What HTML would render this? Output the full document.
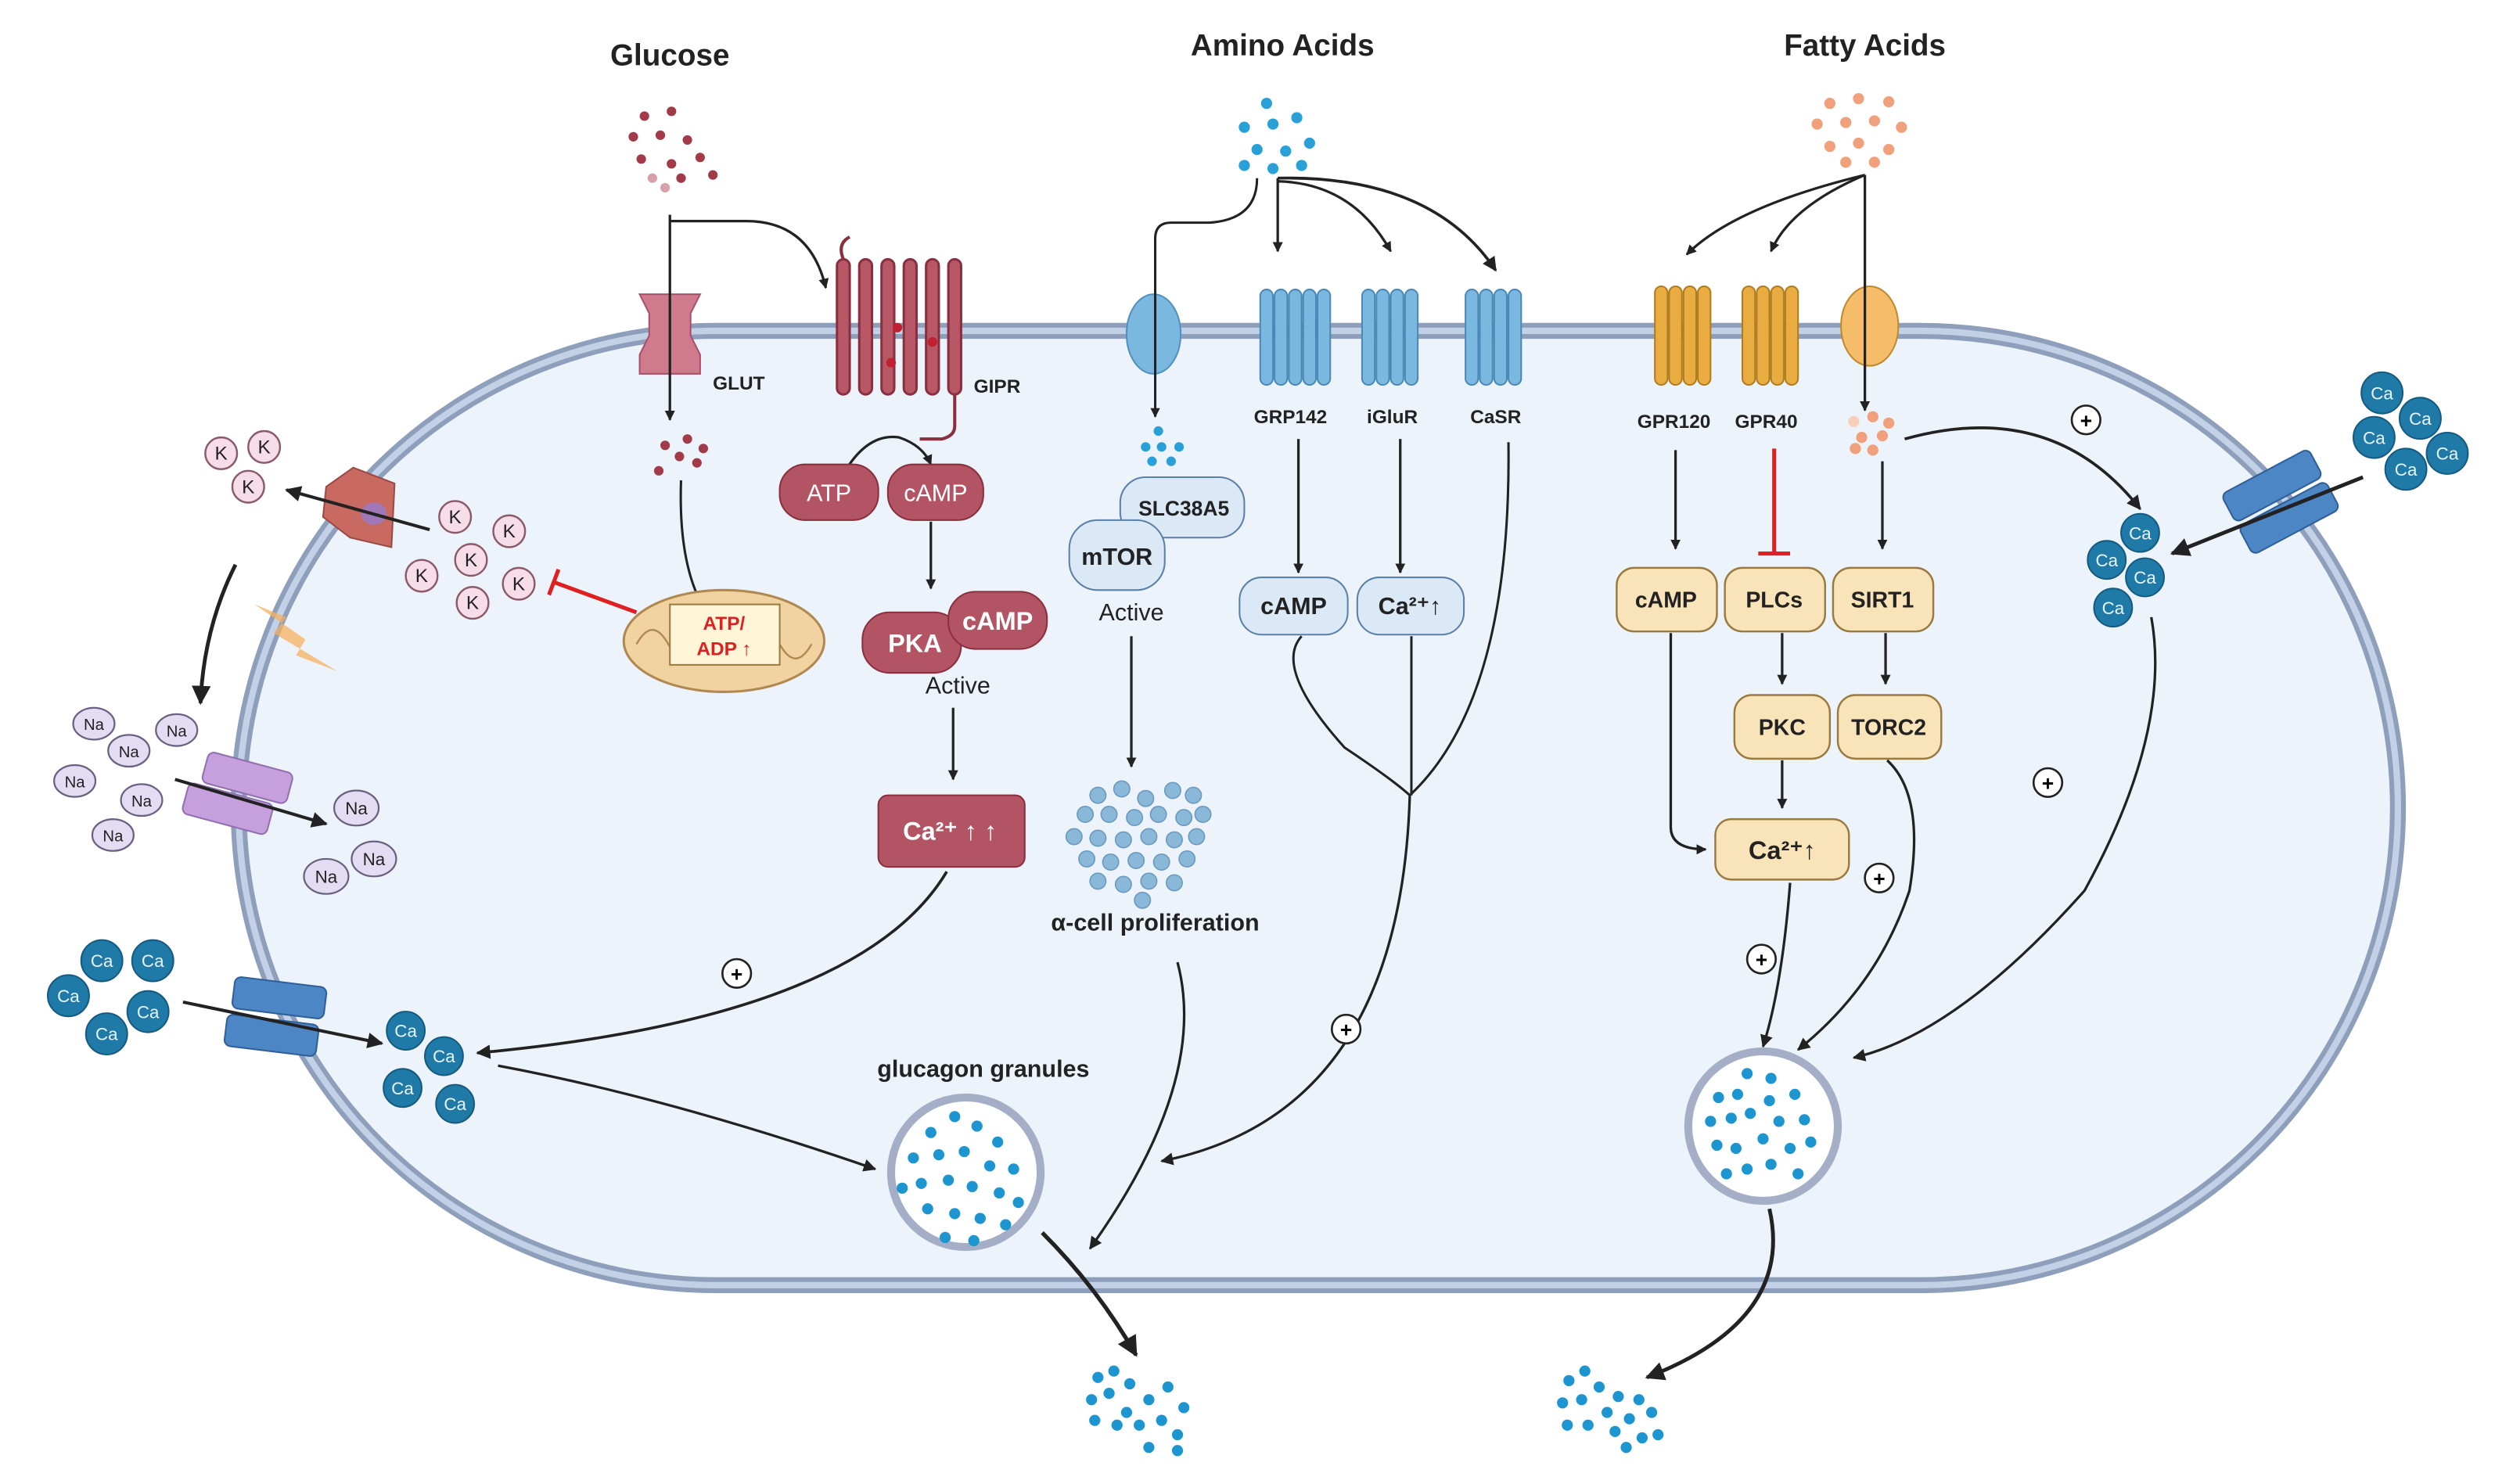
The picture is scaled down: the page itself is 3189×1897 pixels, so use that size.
<!DOCTYPE html>
<html><head><meta charset="utf-8"><style>
html,body{margin:0;padding:0;background:#fff;}
svg{display:block;}
text{font-family:"Liberation Sans",sans-serif;}
.b{font-weight:bold;}
</style></head><body>
<svg width="3189" height="1897" viewBox="0 0 1568 933" preserveAspectRatio="none" xmlns="http://www.w3.org/2000/svg">
<defs>
<marker id="a" viewBox="0 0 10 10" refX="9" refY="5" markerWidth="5" markerHeight="5" orient="auto-start-reverse"><path d="M0,0L10,5L0,10z" fill="#222"/></marker>
<marker id="A" viewBox="0 0 10 10" refX="9" refY="5" markerWidth="4" markerHeight="4" orient="auto-start-reverse"><path d="M0,0L10,5L0,10z" fill="#222"/></marker>
</defs>
<!-- cell -->
<rect x="150" y="208" width="1357" height="600" rx="300" ry="300" fill="#edf3fb" stroke="#8e9fbb" stroke-width="10"/>
<rect x="150" y="208" width="1357" height="600" rx="300" ry="300" fill="none" stroke="#c3d1e6" stroke-width="4"/>

<!-- titles -->
<text x="421" y="41" font-size="19" class="b" text-anchor="middle" fill="#222">Glucose</text>
<text x="806" y="35" font-size="19" class="b" text-anchor="middle" fill="#222">Amino Acids</text>
<text x="1172" y="35" font-size="19" class="b" text-anchor="middle" fill="#222">Fatty Acids</text>

<!-- glucose dots -->
<g fill="#a33a48">
<circle cx="405" cy="73" r="3"/><circle cx="422" cy="70" r="3"/><circle cx="398" cy="86" r="3"/><circle cx="415" cy="85" r="3"/><circle cx="432" cy="88" r="3"/><circle cx="403" cy="100" r="3"/><circle cx="422" cy="103" r="3"/><circle cx="440" cy="99" r="3"/><circle cx="448" cy="110" r="3"/><circle cx="428" cy="112" r="3"/><circle cx="410" cy="112" r="3" fill="#d8a0a8"/><circle cx="418" cy="118" r="3" fill="#d8a0a8"/>
</g>
<!-- amino dots -->
<g fill="#2aa0d8">
<circle cx="796" cy="65" r="3.5"/><circle cx="782" cy="80" r="3.5"/><circle cx="800" cy="78" r="3.5"/><circle cx="815" cy="74" r="3.5"/><circle cx="790" cy="94" r="3.5"/><circle cx="808" cy="95" r="3.5"/><circle cx="823" cy="90" r="3.5"/><circle cx="782" cy="104" r="3.5"/><circle cx="800" cy="106" r="3.5"/><circle cx="818" cy="104" r="3.5"/>
</g>
<!-- fatty dots -->
<g fill="#f0a07a">
<circle cx="1150" cy="65" r="3.5"/><circle cx="1168" cy="62" r="3.5"/><circle cx="1187" cy="64" r="3.5"/><circle cx="1142" cy="78" r="3.5"/><circle cx="1160" cy="77" r="3.5"/><circle cx="1178" cy="76" r="3.5"/><circle cx="1195" cy="80" r="3.5"/><circle cx="1150" cy="92" r="3.5"/><circle cx="1168" cy="90" r="3.5"/><circle cx="1187" cy="94" r="3.5"/><circle cx="1160" cy="102" r="3.5"/><circle cx="1178" cy="102" r="3.5"/>
</g>

<!-- GLUT -->
<path d="M402,185 h38 l-6,12 v14 l6,12 v12 h-38 v-12 l6,-12 v-14 l-6,-12z" fill="#d07a8e" stroke="#a85068" stroke-width="1"/>
<text x="448" y="245" font-size="12" class="b" fill="#222">GLUT</text>
<!-- GIPR -->
<g fill="#b85866" stroke="#8a2f3f" stroke-width="1.5">
<rect x="526" y="163" width="8" height="85" rx="4"/><rect x="540" y="163" width="8" height="85" rx="4"/><rect x="554" y="163" width="8" height="85" rx="4"/><rect x="568" y="163" width="8" height="85" rx="4"/><rect x="582" y="163" width="8" height="85" rx="4"/><rect x="596" y="163" width="8" height="85" rx="4"/>
</g>
<path d="M530,163 q-4,-10 4,-14 M600,248 v20 q0,6 -8,8 h-14" fill="none" stroke="#8a2f3f" stroke-width="2"/>
<circle cx="564" cy="206" r="3" fill="#c02030"/><circle cx="586" cy="215" r="3" fill="#c02030"/><circle cx="560" cy="228" r="3" fill="#c02030"/>
<text x="612" y="247" font-size="12" class="b" fill="#222">GIPR</text>

<!-- glucose arrows -->
<path d="M421,135 V264" stroke="#222" stroke-width="1.6" fill="none" marker-end="url(#A)"/>
<path d="M421,139 h48 q40,0 50,42" stroke="#222" stroke-width="1.6" fill="none" marker-end="url(#A)"/>
<g fill="#a33a48"><circle cx="418" cy="280" r="3"/><circle cx="432" cy="276" r="3"/><circle cx="442" cy="282" r="3"/><circle cx="427" cy="287" r="3"/><circle cx="438" cy="291" r="3"/><circle cx="414" cy="296" r="3"/></g>
<path d="M428,302 Q426,360 446,388" stroke="#222" stroke-width="1.5" fill="none" marker-end="url(#A)"/>

<!-- mitochondrion -->
<ellipse cx="455" cy="403" rx="63" ry="32" fill="#f1d3a2" stroke="#b08850" stroke-width="1.5"/>
<path d="M400,405 q10,-18 20,0 q10,18 20,0 M470,405 q10,-18 20,0 q10,18 20,0" fill="none" stroke="#b08850" stroke-width="1.2"/>
<rect x="421" y="380" width="69" height="38" fill="#fff6d8" stroke="#9a7a40" stroke-width="1"/>
<text x="455" y="396" font-size="12" class="b" fill="#e02020" text-anchor="middle">ATP/</text>
<text x="455" y="412" font-size="12" class="b" fill="#e02020" text-anchor="middle">ADP ↑</text>
<path d="M400,385 L348,366 M345,374 L351,358" stroke="#e02020" stroke-width="2.5" fill="none"/>

<!-- K ions -->
<g fill="#f6dde8" stroke="#8a5a6a" stroke-width="1.2">
<circle cx="139" cy="285" r="10"/><circle cx="166" cy="281" r="10"/><circle cx="156" cy="306" r="10"/>
<circle cx="286" cy="325" r="10"/><circle cx="320" cy="334" r="10"/><circle cx="296" cy="352" r="10"/><circle cx="265" cy="362" r="10"/><circle cx="326" cy="367" r="10"/><circle cx="297" cy="379" r="10"/>
</g>
<g font-size="12" fill="#222" text-anchor="middle">
<text x="139" y="289">K</text><text x="166" y="285">K</text><text x="156" y="310">K</text>
<text x="286" y="329">K</text><text x="320" y="338">K</text><text x="296" y="356">K</text><text x="265" y="366">K</text><text x="326" y="371">K</text><text x="297" y="383">K</text>
</g>
<!-- K channel -->
<path d="M205,306 L222,294 L248,304 L246,344 L220,338 L203,325z" fill="#c96a62" stroke="#9a4a44"/>
<ellipse cx="235" cy="323" rx="8" ry="7" fill="#a078b8"/>
<path d="M270,333 L180,308" stroke="#222" stroke-width="2" marker-end="url(#a)"/>
<path d="M148,355 Q128,395 126,442" stroke="#222" stroke-width="2.4" fill="none" marker-end="url(#a)"/>
<path d="M160,380 L180,388 L172,398 L212,422 L186,412 L192,402z" fill="#f5b060" opacity="0.75"/>

<!-- Na ions -->
<g fill="#e3dcf3" stroke="#6a6080" stroke-width="1.1">
<ellipse cx="59" cy="455" rx="13" ry="10"/><ellipse cx="111" cy="459" rx="13" ry="10"/><ellipse cx="81" cy="472" rx="13" ry="10"/><ellipse cx="47" cy="491" rx="13" ry="10"/><ellipse cx="89" cy="503" rx="13" ry="10"/><ellipse cx="71" cy="525" rx="13" ry="10"/>
<ellipse cx="224" cy="508" rx="14" ry="11"/><ellipse cx="235" cy="540" rx="14" ry="11"/><ellipse cx="205" cy="551" rx="14" ry="11"/>
</g>
<g font-size="10" fill="#222" text-anchor="middle">
<text x="59" y="459">Na</text><text x="111" y="463">Na</text><text x="81" y="476">Na</text><text x="47" y="495">Na</text><text x="89" y="507">Na</text><text x="71" y="529">Na</text>
<text x="224" y="512" font-size="11">Na</text><text x="235" y="544" font-size="11">Na</text><text x="205" y="555" font-size="11">Na</text>
</g>
<g transform="rotate(15 150 500)"><rect x="125" y="478" width="55" height="20" rx="4" fill="#c6a0dd" stroke="#9070b0"/><rect x="118" y="500" width="55" height="20" rx="4" fill="#c6a0dd" stroke="#9070b0"/></g>
<path d="M110,490 L205,518" stroke="#222" stroke-width="2" marker-end="url(#a)"/>

<!-- Ca outside left -->
<g fill="#1f7aa8" stroke="#155a80">
<circle cx="64" cy="604" r="13"/><circle cx="96" cy="604" r="13"/><circle cx="43" cy="626" r="13"/><circle cx="93" cy="636" r="13"/><circle cx="67" cy="650" r="13"/>
<circle cx="255" cy="648" r="12"/><circle cx="279" cy="664" r="12"/><circle cx="253" cy="684" r="12"/><circle cx="286" cy="694" r="12"/>
</g>
<g font-size="11" fill="#e8f4fb" text-anchor="middle">
<text x="64" y="608">Ca</text><text x="96" y="608">Ca</text><text x="43" y="630">Ca</text><text x="93" y="640">Ca</text><text x="67" y="654">Ca</text>
<text x="255" y="652">Ca</text><text x="279" y="668">Ca</text><text x="253" y="688">Ca</text><text x="286" y="698">Ca</text>
</g>
<g transform="rotate(7 172 640)"><rect x="145" y="617" width="58" height="20" rx="4" fill="#4d86c4" stroke="#2e5f99"/><rect x="143" y="641" width="58" height="20" rx="4" fill="#4d86c4" stroke="#2e5f99"/></g>
<path d="M115,630 L240,656" stroke="#222" stroke-width="2" marker-end="url(#a)"/>

<!-- GIPR pathway -->
<path d="M530,298 Q545,272 565,275 Q580,280 585,292" stroke="#222" stroke-width="1.6" fill="none" marker-end="url(#A)"/>
<rect x="490" y="292" width="62" height="35" rx="16" fill="#b35464" stroke="#8a2f3f"/>
<rect x="558" y="292" width="60" height="35" rx="16" fill="#b35464" stroke="#8a2f3f"/>
<text x="521" y="315" font-size="15" fill="#fff" text-anchor="middle">ATP</text>
<text x="588" y="315" font-size="15" fill="#fff" text-anchor="middle">cAMP</text>
<path d="M585,328 V370" stroke="#222" stroke-width="1.6" marker-end="url(#A)"/>
<rect x="542" y="385" width="62" height="38" rx="17" fill="#b35464" stroke="#8a2f3f"/>
<rect x="596" y="372" width="62" height="36" rx="17" fill="#b35464" stroke="#8a2f3f"/>
<text x="575" y="410" font-size="16" class="b" fill="#fff" text-anchor="middle">PKA</text>
<text x="627" y="396" font-size="16" class="b" fill="#fff" text-anchor="middle">cAMP</text>
<text x="602" y="436" font-size="15" fill="#222" text-anchor="middle">Active</text>
<path d="M599,445 V490" stroke="#222" stroke-width="1.6" marker-end="url(#A)"/>
<rect x="552" y="500" width="92" height="45" rx="6" fill="#b35464" stroke="#8a2f3f"/>
<text x="597" y="528" font-size="16" class="b" fill="#fff" text-anchor="middle">Ca²⁺ ↑ ↑</text>
<path d="M595,548 Q540,640 300,662" stroke="#222" stroke-width="1.8" fill="none" marker-end="url(#a)"/>
<circle cx="463" cy="612" r="9" fill="#fff" stroke="#222" stroke-width="1.3"/><text x="463" y="617" font-size="13" text-anchor="middle" class="b">+</text>
<path d="M313,670 Q420,690 550,735" stroke="#222" stroke-width="1.6" fill="none" marker-end="url(#a)"/>

<!-- amino acids transporter -->
<ellipse cx="725" cy="210" rx="17" ry="25" fill="#7ab8e0" stroke="#5090c0"/>
<path d="M790,112 Q790,138 760,140 H736 Q726,140 726,150 V262" stroke="#222" stroke-width="1.5" fill="none" marker-end="url(#A)"/>
<g fill="#2aa0d8"><circle cx="728" cy="271" r="3"/><circle cx="720" cy="281" r="3"/><circle cx="730" cy="281" r="3"/><circle cx="741" cy="281" r="3"/><circle cx="724" cy="290" r="3"/><circle cx="736" cy="290" r="3"/></g>
<rect x="704" y="300" width="78" height="38" rx="16" fill="#dbe9f7" stroke="#5a7fa8"/>
<text x="744" y="324" font-size="13" class="b" fill="#222" text-anchor="middle">SLC38A5</text>
<rect x="672" y="327" width="60" height="44" rx="18" fill="#dbe9f7" stroke="#5a7fa8"/>
<text x="702" y="355" font-size="15" class="b" fill="#222" text-anchor="middle">mTOR</text>
<text x="711" y="390" font-size="15" fill="#222" text-anchor="middle">Active</text>
<path d="M711,400 V482" stroke="#222" stroke-width="1.6" marker-end="url(#A)"/>
<!-- proliferation cluster -->
<g fill="#8ab8d8" stroke="#6a9ac0" stroke-width="0.8">
<circle cx="690" cy="500" r="5"/><circle cx="705" cy="496" r="5"/><circle cx="720" cy="502" r="5"/><circle cx="737" cy="497" r="5"/><circle cx="750" cy="500" r="5"/>
<circle cx="682" cy="512" r="5"/><circle cx="697" cy="512" r="5"/><circle cx="713" cy="514" r="5"/><circle cx="728" cy="512" r="5"/><circle cx="744" cy="514" r="5"/><circle cx="756" cy="512" r="5"/>
<circle cx="675" cy="526" r="5"/><circle cx="690" cy="527" r="5"/><circle cx="706" cy="528" r="5"/><circle cx="722" cy="526" r="5"/><circle cx="738" cy="528" r="5"/><circle cx="752" cy="526" r="5"/>
<circle cx="683" cy="540" r="5"/><circle cx="698" cy="542" r="5"/><circle cx="714" cy="541" r="5"/><circle cx="730" cy="542" r="5"/><circle cx="746" cy="540" r="5"/>
<circle cx="690" cy="554" r="5"/><circle cx="706" cy="556" r="5"/><circle cx="722" cy="554" r="5"/><circle cx="738" cy="555" r="5"/><circle cx="718" cy="566" r="5"/>
</g>
<text x="726" y="585" font-size="15" class="b" fill="#222" text-anchor="middle">α-cell proliferation</text>
<path d="M740,605 Q760,680 685,785" stroke="#222" stroke-width="1.6" fill="none" marker-end="url(#a)"/>

<!-- AA receptors -->
<g fill="#7ab8e0" stroke="#4a88b8" stroke-width="1">
<rect x="792" y="182" width="8" height="60" rx="4"/><rect x="801" y="182" width="8" height="60" rx="4"/><rect x="810" y="182" width="8" height="60" rx="4"/><rect x="819" y="182" width="8" height="60" rx="4"/><rect x="828" y="182" width="8" height="60" rx="4"/>
<rect x="856" y="182" width="8" height="60" rx="4"/><rect x="865" y="182" width="8" height="60" rx="4"/><rect x="874" y="182" width="8" height="60" rx="4"/><rect x="883" y="182" width="8" height="60" rx="4"/>
<rect x="921" y="182" width="8" height="60" rx="4"/><rect x="930" y="182" width="8" height="60" rx="4"/><rect x="939" y="182" width="8" height="60" rx="4"/><rect x="948" y="182" width="8" height="60" rx="4"/>
</g>
<text x="811" y="266" font-size="12" class="b" fill="#222" text-anchor="middle">GRP142</text>
<text x="875" y="266" font-size="12" class="b" fill="#222" text-anchor="middle">iGluR</text>
<text x="940" y="266" font-size="12" class="b" fill="#222" text-anchor="middle">CaSR</text>
<path d="M803,112 V158" stroke="#222" stroke-width="1.6" fill="none" marker-end="url(#A)"/>
<path d="M803,114 Q850,115 874,158" stroke="#222" stroke-width="1.6" fill="none" marker-end="url(#A)"/>
<path d="M803,112 Q900,110 940,170" stroke="#222" stroke-width="1.8" fill="none" marker-end="url(#a)"/>
<path d="M816,276 V360" stroke="#222" stroke-width="1.6" marker-end="url(#A)"/>
<path d="M880,276 V360" stroke="#222" stroke-width="1.6" marker-end="url(#A)"/>
<rect x="779" y="363" width="68" height="36" rx="14" fill="#dbe9f7" stroke="#5a7fa8"/>
<text x="813" y="386" font-size="15" class="b" fill="#222" text-anchor="middle">cAMP</text>
<rect x="853" y="363" width="67" height="36" rx="14" fill="#dbe9f7" stroke="#5a7fa8"/>
<text x="886" y="386" font-size="15" class="b" fill="#222" text-anchor="middle">Ca²⁺↑</text>
<path d="M818,400 Q800,420 845,470 Q875,490 886,500 M887,400 V500 M948,278 Q950,440 886,500" stroke="#222" stroke-width="1.5" fill="none"/>
<path d="M886,500 Q880,700 730,730" stroke="#222" stroke-width="1.6" fill="none" marker-end="url(#a)"/>
<circle cx="846" cy="647" r="9" fill="#fff" stroke="#222" stroke-width="1.3"/><text x="846" y="652" font-size="13" text-anchor="middle" class="b">+</text>

<!-- glucagon granule left -->
<text x="618" y="677" font-size="15" class="b" fill="#222" text-anchor="middle">glucagon granules</text>
<circle cx="607" cy="737" r="47" fill="#fff" stroke="#a4aec6" stroke-width="5"/>
<g fill="#1d95d0">
<circle cx="585" cy="712" r="3.5"/><circle cx="600" cy="702" r="3.5"/><circle cx="614" cy="708" r="3.5"/><circle cx="627" cy="718" r="3.5"/><circle cx="574" cy="728" r="3.5"/><circle cx="590" cy="726" r="3.5"/><circle cx="606" cy="724" r="3.5"/><circle cx="622" cy="733" r="3.5"/><circle cx="637" cy="735" r="3.5"/><circle cx="579" cy="744" r="3.5"/><circle cx="596" cy="742" r="3.5"/><circle cx="611" cy="746" r="3.5"/><circle cx="628" cy="750" r="3.5"/><circle cx="640" cy="756" r="3.5"/><circle cx="583" cy="760" r="3.5"/><circle cx="600" cy="763" r="3.5"/><circle cx="616" cy="766" r="3.5"/><circle cx="632" cy="770" r="3.5"/><circle cx="594" cy="778" r="3.5"/><circle cx="612" cy="780" r="3.5"/><circle cx="567" cy="747" r="3.5"/>
</g>
<path d="M655,775 Q690,810 714,852" stroke="#222" stroke-width="2.6" fill="none" marker-end="url(#a)"/>
<g fill="#1d95d0">
<circle cx="690" cy="866" r="3.5"/><circle cx="700" cy="862" r="3.5"/><circle cx="686" cy="880" r="3.5"/><circle cx="697" cy="876" r="3.5"/><circle cx="710" cy="870" r="3.5"/><circle cx="722" cy="880" r="3.5"/><circle cx="734" cy="872" r="3.5"/><circle cx="688" cy="893" r="3.5"/><circle cx="708" cy="888" r="3.5"/><circle cx="716" cy="896" r="3.5"/><circle cx="730" cy="893" r="3.5"/><circle cx="744" cy="885" r="3.5"/><circle cx="740" cy="902" r="3.5"/><circle cx="722" cy="910" r="3.5"/><circle cx="740" cy="912" r="3.5"/><circle cx="702" cy="896" r="3.5"/>
</g>

<!-- fatty acid receptors -->
<g fill="#e8ac40" stroke="#b07c20" stroke-width="1">
<rect x="1040" y="180" width="8" height="62" rx="4"/><rect x="1049" y="180" width="8" height="62" rx="4"/><rect x="1058" y="180" width="8" height="62" rx="4"/><rect x="1067" y="180" width="8" height="62" rx="4"/>
<rect x="1095" y="180" width="8" height="62" rx="4"/><rect x="1104" y="180" width="8" height="62" rx="4"/><rect x="1113" y="180" width="8" height="62" rx="4"/><rect x="1122" y="180" width="8" height="62" rx="4"/>
</g>
<ellipse cx="1175" cy="205" rx="18" ry="25" fill="#f5bd6a" stroke="#c08a30"/>
<text x="1052" y="269" font-size="12" class="b" fill="#222" text-anchor="middle">GPR120</text>
<text x="1110" y="269" font-size="12" class="b" fill="#222" text-anchor="middle">GPR40</text>
<path d="M1172,110 Q1090,130 1060,160" stroke="#222" stroke-width="1.6" fill="none" marker-end="url(#A)"/>
<path d="M1172,110 Q1125,130 1113,158" stroke="#222" stroke-width="1.6" fill="none" marker-end="url(#A)"/>
<path d="M1172,110 V258" stroke="#222" stroke-width="1.6" fill="none" marker-end="url(#A)"/>
<g fill="#f0a07a"><circle cx="1165" cy="265" r="3.5" fill="#f8cfb8"/><circle cx="1177" cy="262" r="3.5"/><circle cx="1187" cy="266" r="3.5"/><circle cx="1170" cy="275" r="3.5"/><circle cx="1183" cy="274" r="3.5"/><circle cx="1166" cy="282" r="3.5"/><circle cx="1177" cy="283" r="3.5"/></g>
<path d="M1053,283 V345" stroke="#222" stroke-width="1.6" marker-end="url(#A)"/>
<path d="M1115,282 V347 M1105,348 H1125" stroke="#e02020" stroke-width="2.5"/>
<path d="M1183,290 V345" stroke="#222" stroke-width="1.6" marker-end="url(#A)"/>
<g fill="#f9e3b8" stroke="#9a7a40" stroke-width="1.2">
<rect x="1016" y="357" width="63" height="40" rx="11"/><rect x="1084" y="357" width="63" height="40" rx="11"/><rect x="1152" y="357" width="63" height="40" rx="11"/>
<rect x="1090" y="437" width="60" height="40" rx="11"/><rect x="1155" y="437" width="65" height="40" rx="11"/>
<rect x="1078" y="515" width="84" height="38" rx="10"/>
</g>
<g font-size="14" class="b" fill="#222" text-anchor="middle">
<text x="1047" y="382">cAMP</text><text x="1115" y="382">PLCs</text><text x="1183" y="382">SIRT1</text>
<text x="1120" y="462">PKC</text><text x="1187" y="462">TORC2</text>
<text x="1120" y="540" font-size="16">Ca²⁺↑</text>
</g>
<path d="M1120,398 V430" stroke="#222" stroke-width="1.6" marker-end="url(#A)"/>
<path d="M1185,398 V430" stroke="#222" stroke-width="1.6" marker-end="url(#A)"/>
<path d="M1120,478 V508" stroke="#222" stroke-width="1.6" marker-end="url(#A)"/>
<path d="M1050,398 V520 Q1050,534 1072,534" stroke="#222" stroke-width="1.6" fill="none" marker-end="url(#A)"/>
<circle cx="1181" cy="552" r="9" fill="#fff" stroke="#222" stroke-width="1.3"/><text x="1181" y="557" font-size="13" text-anchor="middle" class="b">+</text>
<circle cx="1107" cy="603" r="9" fill="#fff" stroke="#222" stroke-width="1.3"/><text x="1107" y="608" font-size="13" text-anchor="middle" class="b">+</text>
<path d="M1125,555 Q1120,620 1108,658" stroke="#222" stroke-width="1.6" fill="none" marker-end="url(#a)"/>
<path d="M1186,478 Q1210,500 1200,560 Q1180,620 1130,660" stroke="#222" stroke-width="1.6" fill="none" marker-end="url(#a)"/>

<!-- right Ca -->
<path d="M1197,276 Q1290,250 1345,320" stroke="#222" stroke-width="1.8" fill="none" marker-end="url(#a)"/>
<circle cx="1311" cy="264" r="9" fill="#fff" stroke="#222" stroke-width="1.3"/><text x="1311" y="269" font-size="13" text-anchor="middle" class="b">+</text>
<g fill="#1f7aa8" stroke="#155a80">
<circle cx="1497" cy="247" r="13"/><circle cx="1521" cy="263" r="13"/><circle cx="1492" cy="275" r="13"/><circle cx="1538" cy="285" r="13"/><circle cx="1512" cy="295" r="13"/>
<circle cx="1345" cy="335" r="12"/><circle cx="1324" cy="352" r="12"/><circle cx="1348" cy="363" r="12"/><circle cx="1328" cy="382" r="12"/>
</g>
<g font-size="11" fill="#e8f4fb" text-anchor="middle">
<text x="1497" y="251">Ca</text><text x="1521" y="267">Ca</text><text x="1492" y="279">Ca</text><text x="1538" y="289">Ca</text><text x="1512" y="299">Ca</text>
<text x="1345" y="339">Ca</text><text x="1324" y="356">Ca</text><text x="1348" y="367">Ca</text><text x="1328" y="386">Ca</text>
</g>
<g transform="rotate(-28 1433 315)"><rect x="1402" y="294" width="62" height="20" rx="4" fill="#4d86c4" stroke="#2e5f99"/><rect x="1402" y="317" width="62" height="20" rx="4" fill="#4d86c4" stroke="#2e5f99"/></g>
<path d="M1485,300 L1365,348" stroke="#222" stroke-width="2.4" marker-end="url(#a)"/>
<path d="M1352,388 Q1365,460 1310,560 Q1230,650 1165,665" stroke="#222" stroke-width="1.6" fill="none" marker-end="url(#a)"/>
<circle cx="1287" cy="492" r="9" fill="#fff" stroke="#222" stroke-width="1.3"/><text x="1287" y="497" font-size="13" text-anchor="middle" class="b">+</text>

<!-- right granule -->
<circle cx="1108" cy="708" r="47" fill="#fff" stroke="#a4aec6" stroke-width="5"/>
<g fill="#1d95d0">
<circle cx="1098" cy="675" r="3.5"/><circle cx="1113" cy="678" r="3.5"/><circle cx="1080" cy="690" r="3.5"/><circle cx="1092" cy="688" r="3.5"/><circle cx="1112" cy="692" r="3.5"/><circle cx="1128" cy="688" r="3.5"/><circle cx="1075" cy="705" r="3.5"/><circle cx="1088" cy="703" r="3.5"/><circle cx="1100" cy="700" r="3.5"/><circle cx="1118" cy="705" r="3.5"/><circle cx="1134" cy="704" r="3.5"/><circle cx="1079" cy="720" r="3.5"/><circle cx="1091" cy="722" r="3.5"/><circle cx="1108" cy="716" r="3.5"/><circle cx="1125" cy="722" r="3.5"/><circle cx="1138" cy="718" r="3.5"/><circle cx="1098" cy="735" r="3.5"/><circle cx="1113" cy="732" r="3.5"/><circle cx="1130" cy="738" r="3.5"/><circle cx="1085" cy="738" r="3.5"/>
</g>
<path d="M1112,760 Q1128,830 1035,866" stroke="#222" stroke-width="2.4" fill="none" marker-end="url(#a)"/>
<g fill="#1d95d0">
<circle cx="986" cy="868" r="3.5"/><circle cx="996" cy="862" r="3.5"/><circle cx="982" cy="882" r="3.5"/><circle cx="994" cy="880" r="3.5"/><circle cx="1005" cy="872" r="3.5"/><circle cx="1017" cy="878" r="3.5"/><circle cx="1030" cy="880" r="3.5"/><circle cx="985" cy="896" r="3.5"/><circle cx="998" cy="896" r="3.5"/><circle cx="1010" cy="888" r="3.5"/><circle cx="1024" cy="892" r="3.5"/><circle cx="1038" cy="888" r="3.5"/><circle cx="1015" cy="900" r="3.5"/><circle cx="1032" cy="904" r="3.5"/><circle cx="1022" cy="910" r="3.5"/><circle cx="1042" cy="902" r="3.5"/>
</g>
</svg>
</body></html>
